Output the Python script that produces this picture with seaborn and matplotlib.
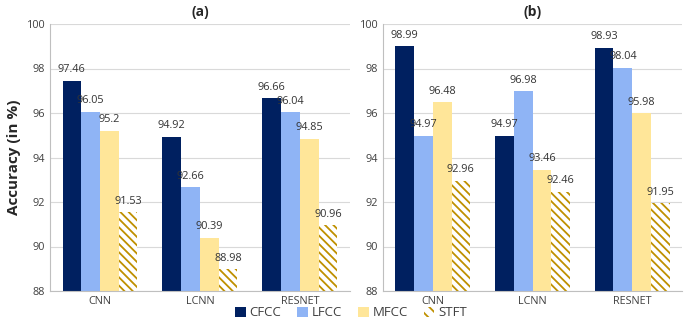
import pandas as pd
import matplotlib.pyplot as plt
import seaborn as sns
from matplotlib.patches import Patch

models = ['CNN', 'LCNN', 'RESNET']
features = ['CFCC', 'LFCC', 'MFCC', 'STFT']

# accuracy per feature, one value per model
acc_a = {
    'CFCC': [97.46, 94.92, 96.66],
    'LFCC': [96.05, 92.66, 96.04],
    'MFCC': [95.2, 90.39, 94.85],
    'STFT': [91.53, 88.98, 90.96],
}
acc_b = {
    'CFCC': [98.99, 94.97, 98.93],
    'LFCC': [94.97, 96.98, 98.04],
    'MFCC': [96.48, 93.46, 95.98],
    'STFT': [92.96, 92.46, 91.95],
}

colors = {'CFCC': '#002060', 'LFCC': '#8fb4f5', 'MFCC': '#ffe699', 'STFT': 'white'}
hatch_color = '#bf9000'


def to_long(acc):
    rows = []
    for f in features:
        for m, v in zip(models, acc[f]):
            rows.append({'Model': m, 'Feature': f, 'Accuracy': v})
    return pd.DataFrame(rows)


sns.set_style('white')
plt.rcParams['font.family'] = ['Open Sans', 'DejaVu Sans']
plt.rcParams['hatch.color'] = hatch_color
plt.rcParams['hatch.linewidth'] = 1.3

fig = plt.figure(figsize=(6.89, 3.22), dpi=100)
ax1 = fig.add_axes([50 / 689, 1 - 291 / 322, 300 / 689, 267 / 322])
ax2 = fig.add_axes([383 / 689, 1 - 291 / 322, 299 / 689, 267 / 322])


def draw(ax, acc, title):
    df = to_long(acc)
    sns.barplot(data=df, x='Model', y='Accuracy', hue='Feature', hue_order=features,
                palette=colors, width=0.75, ax=ax, legend=False, saturation=1,
                edgecolor='none', linewidth=0)
    for feat, cont in zip(features, ax.containers):
        if feat == 'STFT':
            for p in cont:
                p.set_hatch('\\\\\\\\')
                p.set_edgecolor(hatch_color)
                p.set_linewidth(0)
        ax.bar_label(cont, labels=[f'{v:g}' for v in acc[feat]], padding=4,
                     fontsize=7.8, color='#333333')
    ax.set_ylim(88, 100)
    ax.set_yticks(range(88, 101, 2))
    ax.yaxis.grid(True, color='#d9d9d9', linewidth=0.8)
    ax.set_axisbelow(True)
    for s in ['top', 'right']:
        ax.spines[s].set_visible(False)
    for s in ['left', 'bottom']:
        ax.spines[s].set_color('#bfbfbf')
        ax.spines[s].set_linewidth(0.8)
    ax.tick_params(axis='both', labelsize=7.8, colors='#404040', length=0)
    ax.set_xlabel('')
    ax.set_title(title, fontsize=10, fontweight='bold', pad=6)


draw(ax1, acc_a, '(a)')
draw(ax2, acc_b, '(b)')
ax1.set_ylabel('Accuracy (in %)', fontsize=11, fontweight='bold')
ax2.set_ylabel('')

handles = [Patch(facecolor=colors[f], edgecolor=hatch_color if f == 'STFT' else 'none',
                 hatch='\\\\\\' if f == 'STFT' else None, linewidth=0, label=f)
           for f in features]
fig.legend(handles=handles, loc='center', bbox_to_anchor=(351 / 689, 1 - 313 / 322),
           ncol=4, frameon=False, fontsize=9.5, handlelength=0.8, handleheight=0.8,
           handletextpad=0.3, columnspacing=1.2, labelcolor='#404040')

fig.savefig('out.png', dpi=100)
